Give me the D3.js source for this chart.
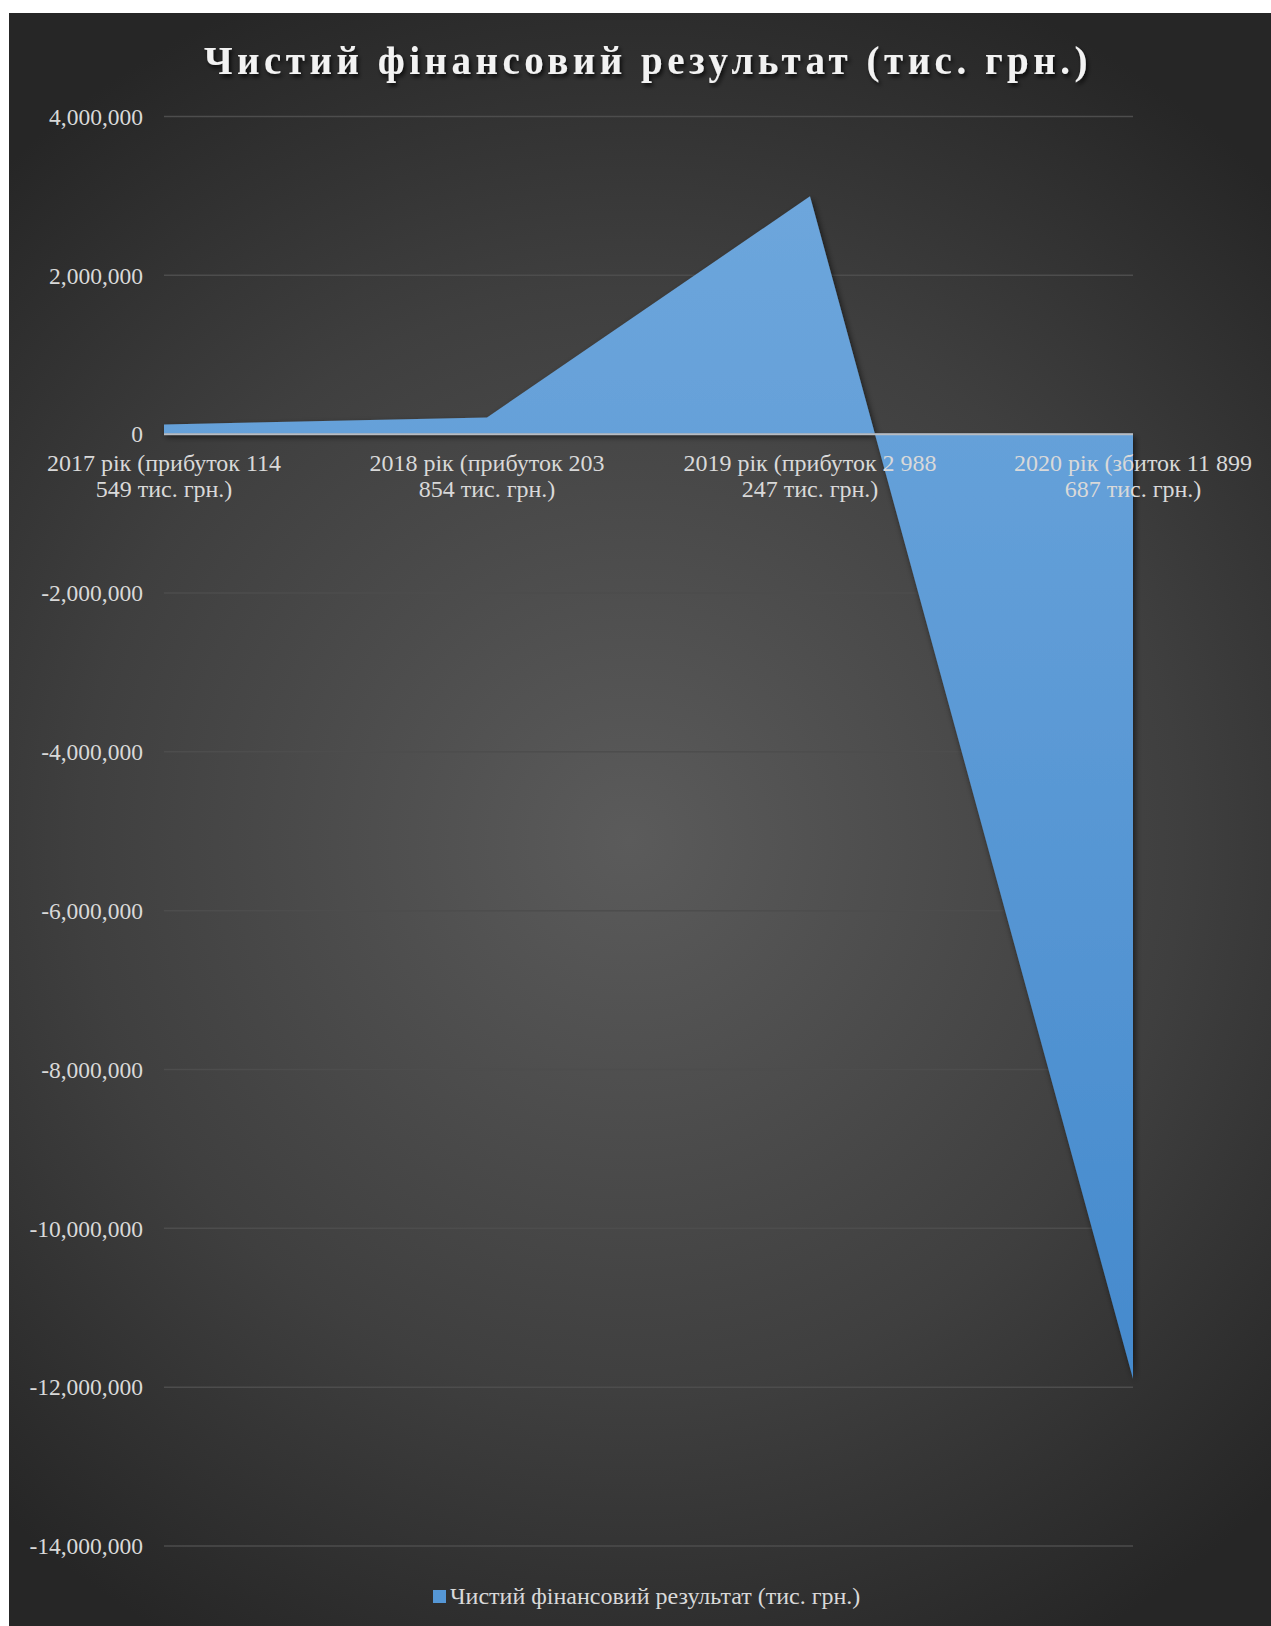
<!DOCTYPE html>
<html>
<head>
<meta charset="utf-8">
<script src="https://cdn.jsdelivr.net/npm/d3@7"></script>
<style>
  html, body { margin: 0; padding: 0; background: #ffffff; }
  svg { display: block; }
</style>
</head>
<body>
<script>
// Net financial result by year, thousand UAH
const categories = ["2017", "2018", "2019", "2020"];
const categoryLabels = [
  ["2017 рік (прибуток 114", "549 тис. грн.)"],
  ["2018 рік (прибуток 203", "854 тис. грн.)"],
  ["2019 рік (прибуток 2 988", "247 тис. грн.)"],
  ["2020 рік (збиток 11 899", "687 тис. грн.)"]
];
const values = [114549, 203854, 2988247, -11899687];
const yTicks = [4000000, 2000000, 0, -2000000, -4000000, -6000000, -8000000, -10000000, -12000000, -14000000];
const seriesName = "Чистий фінансовий результат (тис. грн.)";
const titleText = "Чистий фінансовий результат (тис. грн.)";

const W = 1271, H = 1626;
const frame = { x: 9, y: 13, w: W - 9, h: H - 13 };
const plot = { left: 164, right: 1133, top: 116, bottom: 1545.5 };
const serif = "'Liberation Serif', 'Times New Roman', serif";

const svg = d3.select("body").append("svg").attr("width", W).attr("height", H);
const defs = svg.append("defs");

const bg = defs.append("radialGradient").attr("id", "bgGrad")
  .attr("gradientUnits", "userSpaceOnUse")
  .attr("cx", 630).attr("cy", 840).attr("r", 920);
bg.append("stop").attr("offset", "0%").attr("stop-color", "#5b5b5b");
bg.append("stop").attr("offset", "60%").attr("stop-color", "#3f3f3f");
bg.append("stop").attr("offset", "100%").attr("stop-color", "#262626");

const areaGrad = defs.append("linearGradient").attr("id", "areaGrad")
  .attr("gradientUnits", "userSpaceOnUse")
  .attr("x1", 0).attr("x2", 0).attr("y1", plot.top).attr("y2", plot.bottom);
areaGrad.append("stop").attr("offset", "0%").attr("stop-color", "#70a8dd");
areaGrad.append("stop").attr("offset", "100%").attr("stop-color", "#3f86cb");

const shadow = defs.append("filter").attr("id", "shadow")
  .attr("x", "-10%").attr("y", "-10%").attr("width", "130%").attr("height", "130%");
shadow.append("feDropShadow").attr("dx", 2).attr("dy", 3).attr("stdDeviation", 3)
  .attr("flood-color", "#000").attr("flood-opacity", 0.6);

const titleShadow = defs.append("filter").attr("id", "titleShadow")
  .attr("x", "-5%").attr("y", "-30%").attr("width", "110%").attr("height", "160%");
titleShadow.append("feDropShadow").attr("dx", 2).attr("dy", 3).attr("stdDeviation", 2)
  .attr("flood-color", "#000").attr("flood-opacity", 0.75);

// chart background
svg.append("rect")
  .attr("x", frame.x).attr("y", frame.y)
  .attr("width", frame.w).attr("height", frame.h)
  .attr("fill", "url(#bgGrad)");

const x = d3.scalePoint().domain(categories).range([plot.left, plot.right]).padding(0);
const y = d3.scaleLinear().domain([-14000000, 4000000]).range([plot.bottom, plot.top]);

// gridlines and value labels (plain hyphen for negatives)
const fmt = d3.format(",");
const yAxis = d3.axisLeft(y).tickValues(yTicks)
  .tickFormat(d => fmt(d).replace("\u2212", "-"))
  .tickSize(0).tickPadding(0);
const yg = svg.append("g").attr("transform", `translate(${plot.left},0)`).call(yAxis);
yg.select(".domain").remove();
yg.selectAll(".tick line").remove();
yg.selectAll(".tick")
  .insert("line", "text")
  .attr("x1", 0).attr("x2", plot.right - plot.left)
  .attr("stroke", "#4d4d4d").attr("stroke-width", 1.5);
yg.selectAll(".tick text")
  .attr("x", -21).attr("dy", "0.35em")
  .attr("fill", "#d9d9d9")
  .style("font-family", serif).style("font-size", "23.5px");

// area series
const area = d3.area()
  .x((d, i) => x(categories[i]))
  .y0(y(0))
  .y1(d => y(d));
svg.append("path")
  .datum(values)
  .attr("d", area)
  .attr("fill", "url(#areaGrad)")
  .attr("filter", "url(#shadow)");

// zero axis line
svg.append("line")
  .attr("x1", plot.left).attr("x2", plot.right)
  .attr("y1", y(0) + 0.5).attr("y2", y(0) + 0.5)
  .attr("stroke", "#b8bcc2").attr("stroke-width", 2);

// category labels
const xg = svg.append("g");
categoryLabels.forEach((lines, i) => {
  const t = xg.append("text")
    .attr("text-anchor", "middle")
    .attr("fill", "#d9d9d9")
    .style("font-family", serif).style("font-size", "24px");
  lines.forEach((ln, j) => {
    t.append("tspan")
      .attr("x", x(categories[i]))
      .attr("y", 471 + j * 25.5)
      .text(ln);
  });
});

// title
svg.append("text")
  .attr("x", 648).attr("y", 74)
  .attr("text-anchor", "middle")
  .attr("fill", "#f2f2f2")
  .attr("filter", "url(#titleShadow)")
  .style("font-family", serif).style("font-weight", "bold")
  .style("font-size", "39px").style("letter-spacing", "4.5px")
  .text(titleText);

// legend
const lg = svg.append("g");
lg.append("rect")
  .attr("x", 433).attr("y", 1590).attr("width", 13).attr("height", 13)
  .attr("fill", "#5597d6");
lg.append("text")
  .attr("x", 450).attr("y", 1604)
  .attr("fill", "#d9d9d9")
  .style("font-family", serif).style("font-size", "24px")
  .text(seriesName);
</script>
</body>
</html>
